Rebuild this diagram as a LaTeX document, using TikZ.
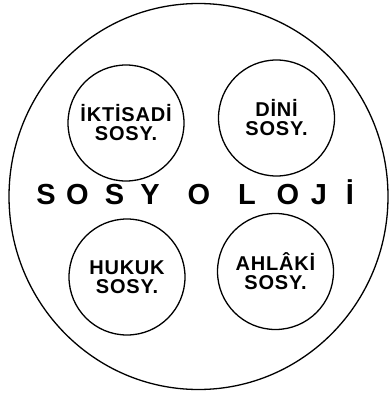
\documentclass[tikz,border=0pt]{standalone}
\usepackage{fontspec}
\setmainfont{Liberation Sans}
\usetikzlibrary{shapes.geometric}

\tikzset{
  alan/.style={draw, circle, line width=1.3pt, minimum size=116pt,
               inner sep=0pt, align=center,
               font=\fontsize{20}{19}\selectfont\bfseries\addfontfeature{LetterSpace=4}},
  harf/.style={anchor=base, inner sep=0pt, font=\fontsize{29}{29}\selectfont\bfseries}
}

\begin{document}
\begin{tikzpicture}[x=1pt, y=-1pt]
    \useasboundingbox (0,0) rectangle (389,393);

    % the whole field
    \node[draw, ellipse, line width=1.3pt, inner sep=0pt,
          minimum width=379pt, minimum height=386pt] (sosyoloji) at (198.5,196.5) {};

    % the four branches
    \node[alan] (iktisadi) at (126,123) {İKTİSADİ\\SOSY.};
    \node[alan] (dini)     at (276.5,118) {DİNİ\\SOSY.};
    \node[alan] (hukuk)    at (127,277) {HUKUK\\SOSY.};
    \node[alan] (ahlaki)   at (275.5,271.5) {AHLÂKİ\\SOSY.};

    % spaced-out title across the middle
    \foreach \ch/\x [count=\i] in {S/46, O/77.5, S/114.5, Y/150, O/199,
                                   L/247, O/288, J/319, İ/350} {
      \node[harf] (h\i) at (\x,204) {\ch};
    }
\end{tikzpicture}
\end{document}
